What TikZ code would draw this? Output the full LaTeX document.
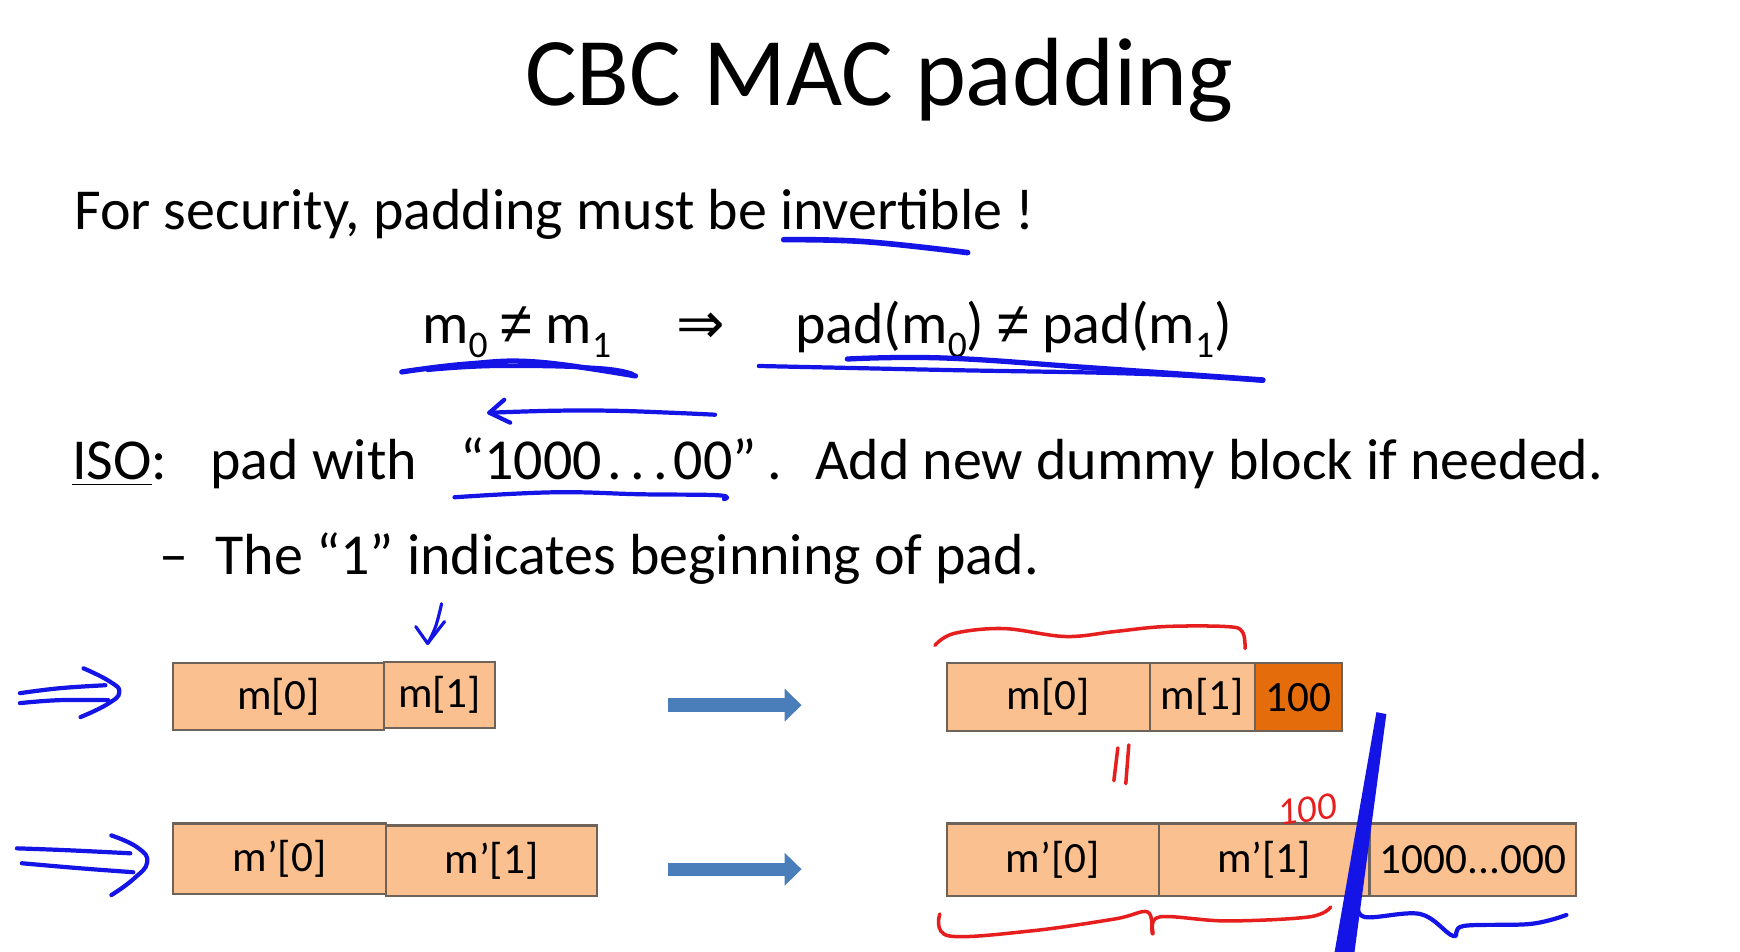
\documentclass[tikz,border=0pt]{standalone}
\usepackage{fontspec}
\setmainfont{Carlito}
\newfontfamily\symfont{DejaVu Sans}
\newfontfamily\neqfont{Liberation Sans}
\usepackage{tikz}
\usetikzlibrary{arrows.meta}
\usepackage{xcolor}
\definecolor{boxfill}{HTML}{FAC090}
\definecolor{padfill}{HTML}{E46C0A}
\definecolor{boxline}{HTML}{6F6259}
\definecolor{bigarrow}{HTML}{4A7EBB}
\definecolor{penblue}{HTML}{1414E6}
\definecolor{penred}{HTML}{E61E1E}
\newcommand\lowidx[1]{\raisebox{-0.25em}{\fontsize{10.7}{12}\selectfont #1}}
\newcommand\neqsign{{\neqfont ≠}}

\begin{document}
\begin{tikzpicture}[x=0.009946cm, y=-0.009946cm,
  slide/.style={anchor=base west, inner sep=0pt, font=\fontsize{16.5}{20}\selectfont},
  block/.style={draw=boxline, line width=0.6pt, fill=boxfill, anchor=north west, inner sep=0pt, font=\fontsize{12.3}{14}\selectfont},
  pen/.style={penblue, line width=1.2pt, line cap=round, line join=round},
  redpen/.style={penred, line width=1pt, line cap=round, line join=round},
  fat/.style={bigarrow, line width=3.8pt, -{Triangle[length=0.17cm, width=0.32cm]}}]

\useasboundingbox (0,0) rectangle (1749.6,957.2);

% title and text
{
\node[anchor=base, inner sep=0pt, font=\fontsize{27.6}{33}\selectfont] (title) at (884,106) {CBC MAC padding};

\node[slide] (sec) at (74,231) {For security, padding must be invertible !};

\node[slide] (lhs) at (424,345) {m\lowidx{0} \neqsign{} m\lowidx{1}};
\node[anchor=base, inner sep=0pt, font=\fontsize{16.5}{20}\selectfont] (impl) at (705,345) {\symfont ⇒};
\node[slide] (rhs) at (799,345) {pad(m\lowidx{0}) \neqsign{} pad(m\lowidx{1})};

\node[slide] (iso) at (72,482) {\underline{ISO}:};
\node[slide] (padw) at (211,482) {pad with};
\node[slide] (ones) at (462,482) {“1000\kern1.5pt.\kern2.5pt.\kern2.5pt.\kern1.5pt00”\kern3pt.};
\node[slide] (dummy) at (819,482) {Add new dummy block if needed.};

\node[slide] (dash) at (160,578) {–};
\node[slide] (begin) at (216,578) {The “1” indicates beginning of pad.};
}

% blocks, left
\node[block, minimum width=2.108cm, minimum height=0.666cm] (m0) at (173,666) {m[0]};
\node[block, minimum width=1.114cm, minimum height=0.656cm] (m1) at (385,665) {m[1]};
\node[block, minimum width=2.128cm, minimum height=0.706cm] (q0) at (173,827) {m’[0]};
\node[block, minimum width=2.109cm, minimum height=0.706cm] (q1) at (387,829) {m’[1]};

% blocks, right
\node[block, minimum width=2.029cm, minimum height=0.676cm] (pm0) at (951,666) {m[0]};
\node[block, minimum width=1.054cm, minimum height=0.676cm] (pm1) at (1155,666) {m[1]};
\node[block, fill=padfill, minimum width=0.865cm, minimum height=0.676cm] (pad) at (1261,666) {100};
\node[block, minimum width=2.118cm, minimum height=0.726cm] (pq0) at (951,827) {m’[0]};
\node[block, minimum width=2.109cm, minimum height=0.726cm] (pq1) at (1164,827) {m’[1]};
\node[block, minimum width=2.069cm, minimum height=0.726cm] (dum) at (1376,827) {1000...000};

% big arrows
\coordinate (a1) at (672,709);
\coordinate (b1) at (806,709);
\coordinate (a2) at (672,874);
\coordinate (b2) at (806,874);
\draw[fat] (a1) -- (b1);
\draw[fat] (a2) -- (b2);

% pen, blue
\draw[pen, line width=1.6pt] plot [smooth, tension=0.7] coordinates {(788,241)(870,243)(973,254)};
\draw[pen, line width=1.5pt] plot [smooth, tension=0.7] coordinates {(404,374)(470,366)(540,364)(639,378)};
\draw[pen] plot [smooth, tension=0.7] coordinates {(430,372)(500,368)(600,370)(636,376)};
\draw[pen] plot [smooth, tension=0.7] coordinates {(763,368)(950,372)(1150,376)(1270,383)};
\draw[pen, line width=1.5pt] plot [smooth, tension=0.7] coordinates {(852,361)(950,360)(1100,370)(1270,382)};
\draw[pen] plot [smooth, tension=0.7] coordinates {(719,417)(675,415)(616,413)(557,413)(492,415)};
\draw[pen] (507,402) -- (492,415) -- (513,425);
\draw[pen] plot [smooth, tension=0.7] coordinates {(457,500)(557,495)(645,497)(722,498)(728,502)};
\draw[pen, line width=0.9pt] plot [smooth, tension=0.7] coordinates {(444,607)(438,630)(430,647)};
\draw[pen, line width=0.9pt] (418,630) -- (430,647) -- (447,625);

\draw[pen] plot [smooth, tension=0.7] coordinates {(20,697)(60,692)(106,689)};
\draw[pen] plot [smooth, tension=0.7] coordinates {(20,707)(60,704)(109,704)};
\draw[pen] plot [smooth, tension=0.8] coordinates {(84,672)(110,685)(120,696)(108,708)(81,721)};
\draw[pen] plot [smooth, tension=0.7] coordinates {(17,853)(70,855)(131,858)};
\draw[pen] plot [smooth, tension=0.7] coordinates {(22,868)(80,873)(134,877)};
\draw[pen] plot [smooth, tension=0.8] coordinates {(112,840)(138,852)(148,867)(134,884)(112,900)};

\fill[penblue] (1384,716) -- (1394,718) -- (1362,957) -- (1342,957) -- cycle;
\draw[pen] plot [smooth, tension=0.6] coordinates {(1366,905)(1372,922)(1428,919)(1461,941)(1472,931)(1539,929)(1575,920)};

% pen, red
\draw[redpen] plot [smooth, tension=0.6] coordinates {(940,649)(959,637)(1009,632)(1071,640)(1121,635)(1171,630)(1233,630)(1249,635)(1252,652)};
\draw[redpen] plot [smooth, tension=0.6] coordinates {(945,919)(954,941)(1037,936)(1121,924)(1154,917)(1159,939)(1166,922)(1233,926)(1316,922)(1338,912)};
\draw[redpen] (1124,752) -- (1120,785);
\draw[redpen] (1135,749) -- (1132,788);
\node[penred, rotate=8, inner sep=0pt, font=\fontsize{11}{13}\itshape] (hund) at (1314,814) {100};

\end{tikzpicture}
\end{document}
